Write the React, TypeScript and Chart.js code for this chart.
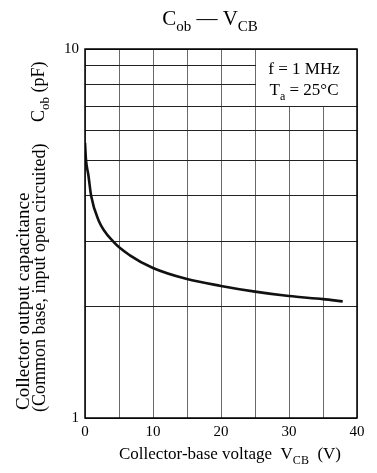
import React, { useEffect, useRef } from "react";
import { Chart, registerables } from "chart.js";

Chart.register(...registerables);

// ---- data ----
const vcb = [0, 0.15, 0.5, 0.9, 2, 4.2, 6.6, 10, 15, 20, 25, 30, 35, 37.9];
const cob = [5.57, 5.0, 4.55, 4.0, 3.43, 3.0, 2.76, 2.55, 2.38, 2.28, 2.2, 2.14, 2.1, 2.07];
const xLabeled = [0, 10, 20, 30, 40];
const yGrid = [1, 2, 3, 4, 5, 6, 7, 8, 9, 10];
const yLabeled = [1, 10];
const xMin = 0, xMax = 40, xStep = 5;
const yMin = 1, yMax = 10;
// annotation box (grid removed inside): from x=25..40, y=7..10
const boxX = [25, 40];
const boxY = [7, 10];

const SERIF = "'Liberation Serif', 'DejaVu Serif', serif";

type Seg = { t: string; sub?: boolean };

function drawRich(ctx: CanvasRenderingContext2D, x: number, y: number, segs: Seg[], size: number, align: "left" | "center") {
  const subSize = Math.round(size * 0.72);
  const fontOf = (s: Seg) => `${s.sub ? subSize : size}px ${SERIF}`;
  let total = 0;
  for (const s of segs) { ctx.font = fontOf(s); total += ctx.measureText(s.t).width; }
  let cx = align === "center" ? x - total / 2 : x;
  ctx.textAlign = "left";
  ctx.textBaseline = "alphabetic";
  for (const s of segs) {
    ctx.font = fontOf(s);
    ctx.fillText(s.t, cx, s.sub ? y + size * 0.28 : y);
    cx += ctx.measureText(s.t).width;
  }
}

const decorPlugin = {
  id: "decor",
  beforeDatasetsDraw(chart: any) {
    const { ctx, scales } = chart;
    const xs = scales.x, ys = scales.y;
    const x0 = Math.floor(xs.getPixelForValue(boxX[0])) + 1;
    const x1 = Math.floor(xs.getPixelForValue(boxX[1]));
    const y0 = Math.floor(ys.getPixelForValue(boxY[1])) + 1;
    const y1 = Math.floor(ys.getPixelForValue(boxY[0]));
    ctx.save();
    ctx.fillStyle = "#fff";
    ctx.fillRect(x0, y0, x1 - x0, y1 - y0);
    ctx.restore();
  },
  afterDraw(chart: any) {
    const { ctx, chartArea: a } = chart;
    ctx.save();
    ctx.fillStyle = "#000";
    // frame
    ctx.strokeStyle = "#000";
    ctx.lineWidth = 1.5;
    ctx.strokeRect(a.left, a.top, a.right - a.left, a.bottom - a.top);
    // title
    drawRich(ctx, 210, 25, [{ t: "C" }, { t: "ob", sub: true }, { t: " — " }, { t: "V" }, { t: "CB", sub: true }], 21, "center");
    // x title
    drawRich(ctx, 230, 459, [{ t: "Collector-base voltage  V" }, { t: "CB", sub: true }, { t: "  (V)" }], 17, "center");
    // annotation
    const cx = (chart.scales.x.getPixelForValue(boxX[0]) + chart.scales.x.getPixelForValue(boxX[1])) / 2 - 2;
    drawRich(ctx, cx, 74, [{ t: "f = 1 MHz" }], 17, "center");
    drawRich(ctx, cx, 95, [{ t: "T" }, { t: "a", sub: true }, { t: " = 25°C" }], 17, "center");
    // y titles (rotated)
    const rot = (bx: number, by: number, segs: Seg[], size: number) => {
      ctx.save();
      ctx.translate(bx, by);
      ctx.rotate(-Math.PI / 2);
      drawRich(ctx, 0, 0, segs, size, "left");
      ctx.restore();
    };
    rot(29, 410, [{ t: "Collector output capacitance" }], 19);
    rot(45, 412, [{ t: "(Common base, input open circuited)" }], 18);
    rot(44, 122, [{ t: "C" }, { t: "ob", sub: true }, { t: " (pF)" }], 18);
    ctx.restore();
  },
};

export default function App() {
  const ref = useRef<HTMLCanvasElement | null>(null);
  useEffect(() => {
    document.body.style.margin = "0";
    const canvas = ref.current!;
    const chart = new Chart(canvas, {
      type: "line",
      data: {
        datasets: [
          {
            data: vcb.map((v, i) => ({ x: v, y: cob[i] })),
            borderColor: "#111",
            borderWidth: 2.6,
            pointRadius: 0,
            fill: false,
            cubicInterpolationMode: "monotone",
          },
        ],
      },
      options: {
        responsive: false,
        animation: false,
        events: [],
        layout: { padding: { left: 0, right: 20, top: 49, bottom: 0 } },
        plugins: { legend: { display: false }, tooltip: { enabled: false }, title: { display: false } },
        scales: {
          x: {
            type: "linear",
            min: xMin,
            max: xMax,
            afterFit: (s: any) => { s.height = 55; },
            grid: { color: "#6a6a6a", lineWidth: 1, drawTicks: false },
            border: { display: false },
            ticks: {
              stepSize: xStep,
              autoSkip: false,
              maxRotation: 0,
              padding: 5,
              color: "#000",
              font: { family: SERIF, size: 15 },
              callback: (v: any) => (xLabeled.includes(Number(v)) ? String(v) : ""),
            },
          },
          y: {
            type: "logarithmic",
            min: yMin,
            max: yMax,
            afterFit: (s: any) => { s.width = 85; },
            afterBuildTicks: (s: any) => { s.ticks = yGrid.map((v) => ({ value: v })); },
            grid: { color: "#222", lineWidth: 1, drawTicks: false },
            border: { display: false },
            ticks: {
              autoSkip: false,
              padding: 6,
              color: "#000",
              font: { family: SERIF, size: 15 },
              callback: (v: any) => (yLabeled.includes(Number(v)) ? String(v) : ""),
            },
          },
        },
      },
      plugins: [decorPlugin],
    } as any);
    return () => chart.destroy();
  }, []);
  return (
    <div style={{ position: "absolute", left: 0, top: 0 }}>
      <canvas ref={ref} width={377} height={473} style={{ display: "block", width: 377, height: 473 }} />
    </div>
  );
}
